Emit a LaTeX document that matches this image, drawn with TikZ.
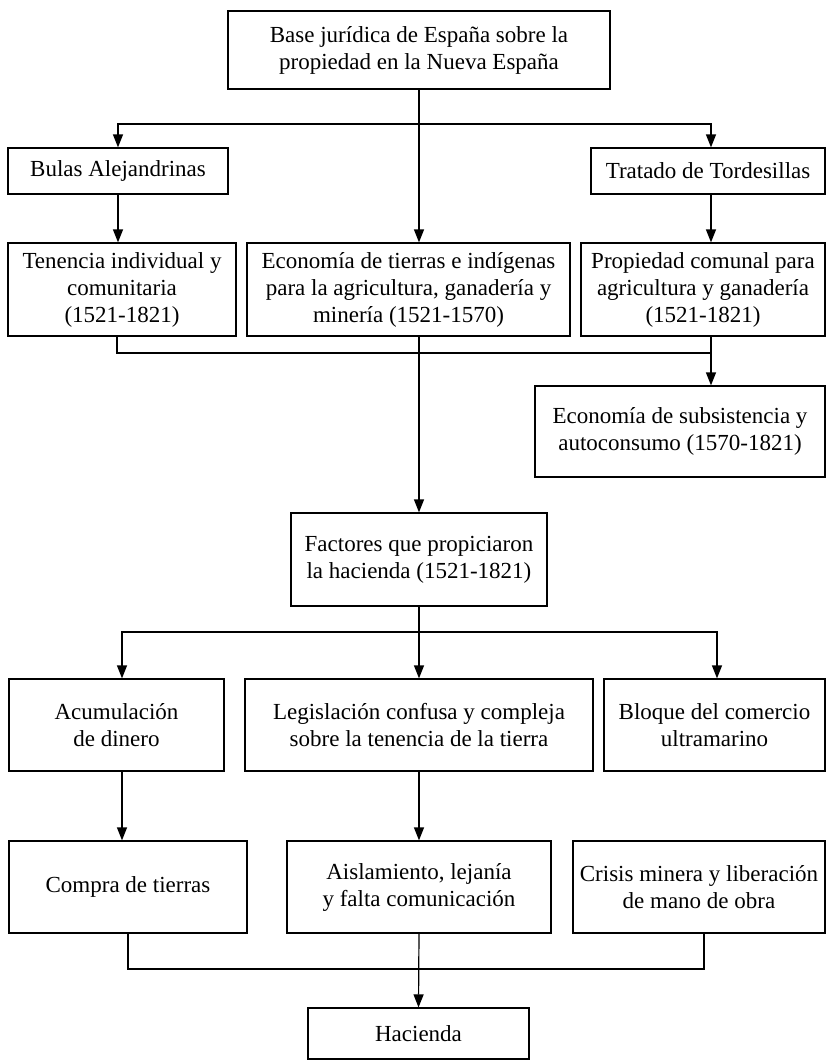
\documentclass[tikz,border=0pt]{standalone}
\usepackage{fontspec}
\setmainfont{Liberation Serif}
\usetikzlibrary{arrows.meta}

\begin{document}
\begin{tikzpicture}[x=0.5pt,y=-0.5pt,
    caja/.style={draw,line width=0.6pt,align=center,inner sep=1.5pt,
      font=\fontsize{11.5}{13.5}\selectfont},
    flecha/.style={-{Triangle[length=6.5pt,width=5pt]},line width=0.6pt},
    linea/.style={line width=0.6pt}]
  % Marco de la figura (en pixeles de la imagen)
  \useasboundingbox (0,0) rectangle (826,1061);

  % Nivel 1 : la base juridica
  \node[caja,minimum width=191pt,minimum height=39pt] (base) at (419,50)
    {Base jurídica de España sobre la\\propiedad en la Nueva España};

  % Nivel 2 : las dos fuentes
  \node[caja,minimum width=110pt,minimum height=23pt] (bulas) at (118,171)
    {Bulas Alejandrinas};
  \node[caja,minimum width=117pt,minimum height=23pt] (tratado) at (708,171)
    {Tratado de Tordesillas};

  % Nivel 3 : formas de propiedad
  \node[caja,minimum width=114pt,minimum height=46.5pt] (tenencia) at (122,289.5)
    {Tenencia individual y\\comunitaria\\(1521-1821)};
  \node[caja,minimum width=161.5pt,minimum height=46.5pt] (economia) at (408.5,289.5)
    {Economía de tierras e indígenas\\para la agricultura, ganadería y\\minería (1521-1570)};
  \node[caja,minimum width=122pt,minimum height=46.5pt] (propiedad) at (703,289.5)
    {Propiedad comunal para\\agricultura y ganadería\\(1521-1821)};

  % Economia de subsistencia
  \node[caja,minimum width=145pt,minimum height=45.5pt] (subsistencia) at (680,431.5)
    {Economía de subsistencia y\\autoconsumo (1570-1821)};

  % Nivel 4 : los factores
  \node[caja,minimum width=128pt,minimum height=46.5pt] (factores) at (419,559.5)
    {Factores que propiciaron\\la hacienda (1521-1821)};

  % Nivel 5
  \node[caja,minimum width=107.5pt,minimum height=46pt] (acumulacion) at (116.5,725)
    {Acumulación\\de dinero};
  \node[caja,minimum width=174pt,minimum height=46pt] (legislacion) at (419,725)
    {Legislación confusa y compleja\\sobre la tenencia de la tierra};
  \node[caja,minimum width=110.5pt,minimum height=46pt] (bloque) at (714.5,725)
    {Bloque del comercio\\ultramarino};

  % Nivel 6
  \node[caja,minimum width=119pt,minimum height=46pt] (compra) at (128,887)
    {Compra de tierras};
  \node[caja,minimum width=132pt,minimum height=46pt] (aislamiento) at (419,887)
    {Aislamiento, lejanía\\y falta comunicación};
  \node[caja,minimum width=126pt,minimum height=46pt] (crisis) at (699,887)
    {Crisis minera y liberación\\de mano de obra};

  % Nivel 7 : la hacienda
  \node[caja,minimum width=110.5pt,minimum height=25.5pt] (hacienda) at (418.5,1033.5)
    {Hacienda};

  % Puntos de reparto de las flechas
  \coordinate (r1) at (419,124);
  \coordinate (r1d) at (711,124);
  \coordinate (u1) at (711,353);
  \coordinate (u1i) at (117,353);
  \coordinate (r2) at (419,632);
  \coordinate (r2i) at (122,632);
  \coordinate (r2d) at (717,632);
  \coordinate (u2) at (419,969);
  \coordinate (u2i) at (128,969);
  \coordinate (u2d) at (704,969);

  % Conectores de la parte alta
  \draw[linea] (base.south) -- (r1);
  \draw[flecha] (r1) -| (bulas.north);
  \draw[flecha] (r1) -- (r1d) -- (r1d |- tratado.north);
  \draw[flecha] (r1) -- (r1 |- economia.north);
  \draw[flecha] (bulas.south) -- (bulas.south |- tenencia.north);
  \draw[flecha] (r1d |- tratado.south) -- (r1d |- propiedad.north);

  % Union de las dos tenencias
  \draw[linea] (u1i |- tenencia.south) -- (u1i) -- (u1);
  \draw[linea] (u1 |- propiedad.south) -- (u1);
  \draw[flecha] (u1) -- (u1 |- subsistencia.north);
  \draw[flecha] (r1 |- economia.south) -- (factores.north);

  % Reparto de los factores
  \draw[linea] (factores.south) -- (r2);
  \draw[flecha] (r2) -- (r2i) -- (r2i |- acumulacion.north);
  \draw[flecha] (r2) -- (legislacion.north);
  \draw[flecha] (r2) -- (r2d) -- (r2d |- bloque.north);
  \draw[flecha] (r2i |- acumulacion.south) -- (r2i |- compra.north);
  \draw[flecha] (legislacion.south) -- (aislamiento.north);

  % Union final hacia la hacienda
  \draw[linea] (u2i |- compra.south) -- (u2i) -- (u2d) -- (u2d |- crisis.south);
  \draw[flecha] (aislamiento.south) -- (hacienda.north);
\end{tikzpicture}
\end{document}
